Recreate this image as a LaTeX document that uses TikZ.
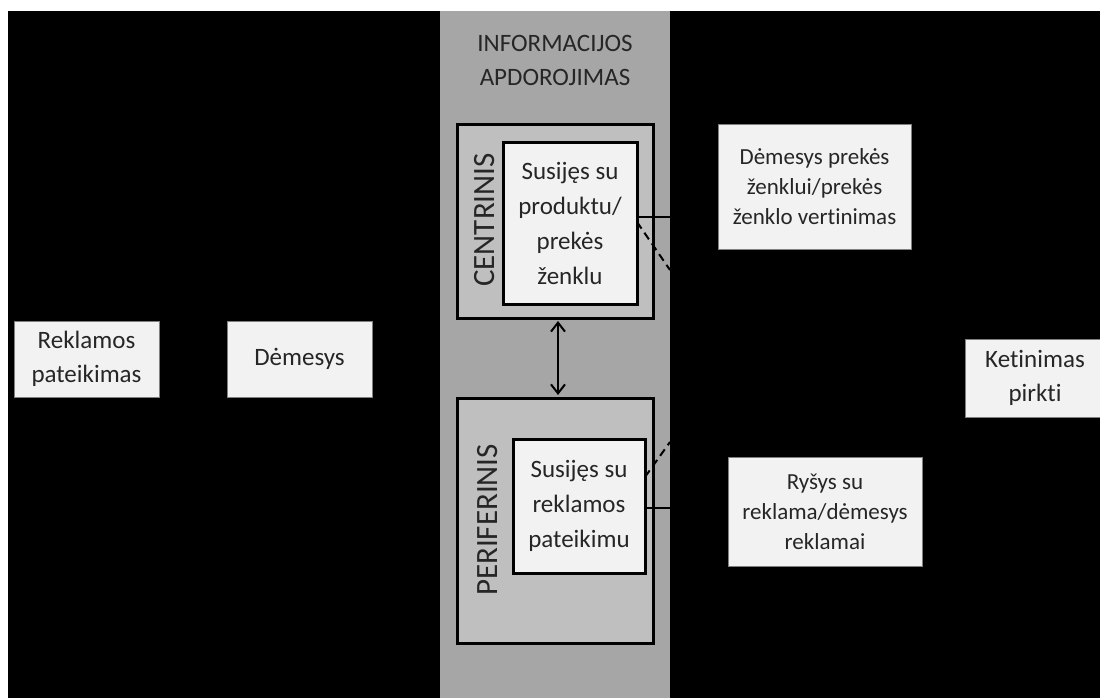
\documentclass[tikz,border=0pt]{standalone}
\usepackage{fontspec}
\setmainfont{Carlito}[Ligatures={NoCommon}]
\usetikzlibrary{arrows.meta}
\definecolor{boxfill}{HTML}{F2F2F2}
\definecolor{colfill}{HTML}{A6A6A6}
\definecolor{outfill}{HTML}{BFBFBF}
\definecolor{txt}{HTML}{262626}
\definecolor{edge}{HTML}{7F7F7F}
\tikzset{
  plainbox/.style={fill=boxfill, draw=edge, line width=1pt, text=txt, align=center, inner sep=0pt, anchor=center},
  outerbox/.style={fill=outfill, draw=black, line width=3pt, inner sep=0pt, anchor=center},
  innerbox/.style={fill=boxfill, draw=black, line width=3pt, text=txt, align=center, inner sep=0pt, anchor=center,
    font=\fontsize{25}{35}\selectfont},
  sidelabel/.style={rotate=90, text=txt, font=\fontsize{31}{36}\selectfont, inner sep=0pt, anchor=center},
  bigtxt/.style={font=\fontsize{25}{34}\selectfont},
  smalltxt/.style={font=\fontsize{23}{30}\selectfont},
  link/.style={draw=black, line width=2pt},
  dlink/.style={draw=black, line width=2pt, dash pattern=on 8pt off 5pt},
}
\begin{document}
\begin{tikzpicture}[x=1pt, y=-1pt]
\useasboundingbox (0,0) rectangle (1100,698);
\clip (0,0) rectangle (1100,698);
% background
\fill[white] (0,0) rectangle (1100,698);
\fill[black] (8,11) rectangle (1100,698);
% grey column
\node[fill=colfill, draw=none, minimum width=230pt, minimum height=687pt, inner sep=0pt, anchor=north west] (col) at (440,11) {};
\node[text=txt, align=center, bigtxt, inner sep=0pt] (title) at (555,60) {INFORMACIJOS\\APDOROJIMAS};
% central route
\node[outerbox, minimum width=196pt, minimum height=193pt] (cent) at (555,221.5) {};
\node[innerbox, minimum width=134pt, minimum height=161pt] (centin) at (570,223.5) {Susijęs su\\produktu/\\prekės\\ženklu};
\node[sidelabel] (centlbl) at (485,220) {CENTRINIS};
% peripheral route
\node[outerbox, minimum width=196pt, minimum height=245pt] (peri) at (555,520.5) {};
\node[innerbox, minimum width=132pt, minimum height=134pt] (periin) at (579,506) {Susijęs su\\reklamos\\pateikimu};
\node[sidelabel] (perilbl) at (488,520) {PERIFERINIS};
% left boxes
\node[plainbox, bigtxt, minimum width=145pt, minimum height=76pt] (rek) at (86.5,359) {Reklamos\\pateikimas};
\node[plainbox, bigtxt, minimum width=145pt, minimum height=76pt] (dem) at (299.5,359) {Dėmesys};
% right boxes
\node[plainbox, smalltxt, minimum width=193pt, minimum height=124pt] (brand) at (814.5,187) {Dėmesys prekės\\ženklui/prekės\\ženklo vertinimas};
\node[plainbox, bigtxt, minimum width=140pt, minimum height=78pt] (ket) at (1035,378) {Ketinimas\\pirkti};
\node[plainbox, smalltxt, minimum width=194pt, minimum height=109pt] (rys) at (825,511.5) {Ryšys su\\reklama/dėmesys\\reklamai};
% connectors
\coordinate (c1) at (670,217);
\coordinate (c2) at (670,270);
\coordinate (c2s) at (637,222);
\coordinate (p1) at (670,508);
\coordinate (p2) at (670,442);
\coordinate (p2s) at (645,477);
\draw[link] (centin.east |- c1) -- (c1);
\draw[dlink] (c2s) -- (c2);
\draw[link] (periin.east |- p1) -- (p1);
\draw[dlink] (p2s) -- (p2);
\draw[link, {Straight Barb[length=9pt,width=14pt,line width=2pt]}-{Straight Barb[length=9pt,width=14pt,line width=2pt]}, shorten <=1.5pt, shorten >=1.5pt] (cent.south -| 558,0) -- (peri.north -| 558,0);
\end{tikzpicture}
\end{document}
